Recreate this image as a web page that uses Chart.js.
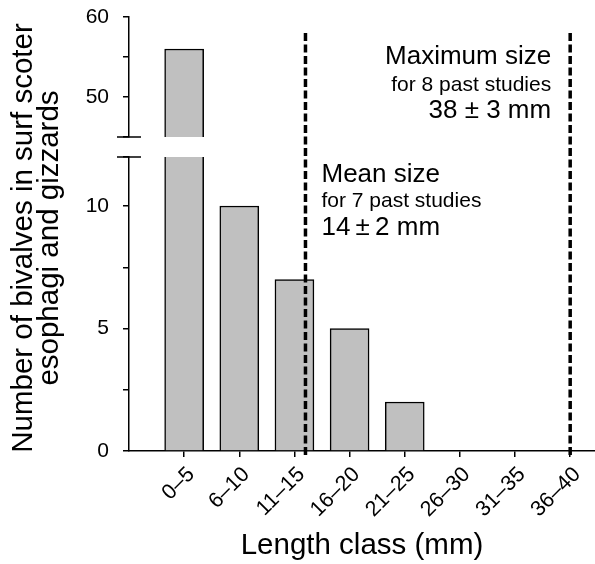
<!DOCTYPE html>
<html><head><meta charset="utf-8">
<script src="https://cdn.jsdelivr.net/npm/chart.js@4.4.1/dist/chart.umd.min.js"></script>
<style>html,body{margin:0;padding:0;background:#fff}#wrap{width:595px;height:564px;position:relative}</style>
</head><body><div id="wrap"><canvas id="c"></canvas></div>
<script>
// ---- data ----
const CATEGORIES = ['0–5', '6–10', '11–15', '16–20', '21–25', '26–30', '31–35', '36–40'];
const COUNTS = [56, 10, 7, 5, 2, 0, 0, 0];
const LOWER_RANGE = [0, 12];     // lower segment of the broken y axis
const UPPER_RANGE = [45, 60];    // upper segment of the broken y axis
const LOWER_TICK_LABELS = [0, 5, 10];
const UPPER_TICK_LABELS = [50, 60];
const MEAN_SIZE_MM = 14;
const MAX_SIZE_MM = 38;
const DASH_TOP_VALUE = 58;       // on upper segment

const FONT = '"Liberation Sans", Arial, Helvetica, sans-serif';
const classPos = mm => (mm - 3) / 5;  // class i has midpoint 5i+3 mm

const lowerData = COUNTS.map((v, i) => ({x: i, y: Math.min(v, LOWER_RANGE[1])}));
const upperData = COUNTS.map((v, i) => v > UPPER_RANGE[0] ? {x: i, y: [UPPER_RANGE[0], v]} : null).filter(Boolean);

const annot = {
  id: 'annot',
  afterDatasetsDraw(chart) {
    const ctx = chart.ctx, xs = chart.scales.x, yl = chart.scales.yLow, yh = chart.scales.yHigh;
    ctx.save();
    ctx.strokeStyle = '#000';
    ctx.lineWidth = 3.5;
    ctx.setLineDash([8, 3.5]);
    [MEAN_SIZE_MM, MAX_SIZE_MM].forEach(mm => {
      const x = xs.getPixelForValue(classPos(mm));
      ctx.beginPath();
      ctx.moveTo(x, yh.getPixelForValue(DASH_TOP_VALUE));
      ctx.lineTo(x, yl.getPixelForValue(0) + 4);
      ctx.stroke();
    });
    ctx.restore();
  },
  afterDraw(chart) {
    const ctx = chart.ctx, xs = chart.scales.x, yl = chart.scales.yLow, yh = chart.scales.yHigh;
    const top = chart.chartArea.top;
    ctx.save();
    // axis break marks
    ctx.strokeStyle = '#000';
    ctx.lineWidth = 1.5;
    const ax = chart.chartArea.left;
    [yh.getPixelForValue(UPPER_RANGE[0]), yl.getPixelForValue(LOWER_RANGE[1])].forEach(y => {
      ctx.beginPath(); ctx.moveTo(ax - 12, y); ctx.lineTo(ax + 12, y); ctx.stroke();
    });
    // annotation texts
    ctx.fillStyle = '#000';
    const mx = xs.getPixelForValue(classPos(MAX_SIZE_MM)) - 19;
    ctx.textAlign = 'right'; ctx.textBaseline = 'alphabetic';
    ctx.font = '26px ' + FONT; ctx.fillText('Maximum size', mx, top + 47);
    ctx.font = '21px ' + FONT; ctx.fillText('for 8 past studies', mx, top + 74);
    ctx.font = '26px ' + FONT; ctx.fillText('38 ± 3 mm', mx, top + 101);
    const nx = xs.getPixelForValue(classPos(MEAN_SIZE_MM)) + 16;
    ctx.textAlign = 'left';
    ctx.font = '26px ' + FONT; ctx.fillText('Mean size', nx, top + 165);
    ctx.font = '21px ' + FONT; ctx.fillText('for 7 past studies', nx, top + 190);
    ctx.font = '26px ' + FONT; ctx.fillText('14\u2009±\u20092 mm', nx, top + 218);
    // y axis title (spans both segments)
    const cy = (chart.chartArea.top + chart.chartArea.bottom) / 2 + 4;
    ctx.font = '29.5px ' + FONT; ctx.textAlign = 'center';
    ['Number of bivalves in surf scoter', 'esophagi and gizzards'].forEach((t, k) => {
      ctx.save(); ctx.translate(32 + k * 26, cy); ctx.rotate(-Math.PI / 2); ctx.fillText(t, 0, 0); ctx.restore();
    });
    ctx.restore();
  }
};

const yCommon = {
  type: 'linear', position: 'left', stack: 'y',
  grid: {drawOnChartArea: false, drawTicks: true, tickLength: 6, color: '#000', lineWidth: 1.5},
  border: {color: '#000', width: 1.5},
  afterFit: s => { s.width = 129; s.paddingTop = 0; s.paddingBottom = 0; }
};

new Chart(document.getElementById('c'), {
  type: 'bar',
  data: {
    datasets: [
      {
        data: lowerData, yAxisID: 'yLow', grouped: false,
        backgroundColor: '#c0c0c0', borderColor: '#000', borderSkipped: 'start',
        borderWidth: c => (c.raw && COUNTS[c.raw.x] > LOWER_RANGE[1]) ? {left: 1.5, right: 1.5, top: 0, bottom: 0} : 1.5,
        barThickness: 39
      },
      {
        data: upperData, yAxisID: 'yHigh', grouped: false,
        backgroundColor: '#c0c0c0', borderColor: '#000', borderSkipped: 'start', borderWidth: 1.5,
        barThickness: 39
      }
    ]
  },
  options: {
    responsive: true, maintainAspectRatio: false, animation: false,
    layout: {padding: {left: 0, right: 0, top: 17, bottom: 0}},
    plugins: {legend: {display: false}, tooltip: {enabled: false}},
    scales: {
      x: {
        type: 'linear', min: -1, max: 7.45, offset: false,
        afterBuildTicks: s => { s.ticks = CATEGORIES.map((_, i) => ({value: i})); },
        ticks: {
          autoSkip: false, minRotation: 45, maxRotation: 45, padding: 5, labelOffset: 7,
          color: '#000', font: {family: FONT, size: 21.5},
          callback: v => CATEGORIES[v] !== undefined ? CATEGORIES[v] : ''
        },
        grid: {offset: false, drawOnChartArea: false, drawTicks: true, tickLength: 6, color: '#000', lineWidth: 1.5},
        border: {color: '#000', width: 1.5},
        title: {display: true, text: 'Length class (mm)', color: '#000', font: {family: FONT, size: 29.5}, padding: {top: 0, bottom: 0}},
        afterFit: s => { s.height = 113; }
      },
      yLow: Object.assign({}, yCommon, {
        min: LOWER_RANGE[0], max: LOWER_RANGE[1], stackWeight: 294,
        ticks: {stepSize: 2.5, autoSkip: false, padding: 14, color: '#000', font: {family: FONT, size: 21},
          callback: v => LOWER_TICK_LABELS.includes(v) ? String(v) : ''}
      }),
      yGap: {type: 'linear', position: 'left', stack: 'y', stackWeight: 20, display: false, min: 0, max: 1},
      yHigh: Object.assign({}, yCommon, {
        min: UPPER_RANGE[0], max: UPPER_RANGE[1], stackWeight: 120,
        ticks: {stepSize: 5, autoSkip: false, padding: 14, color: '#000', font: {family: FONT, size: 21},
          callback: v => UPPER_TICK_LABELS.includes(v) ? String(v) : ''}
      })
    }
  },
  plugins: [annot]
});
</script>
</body></html>
